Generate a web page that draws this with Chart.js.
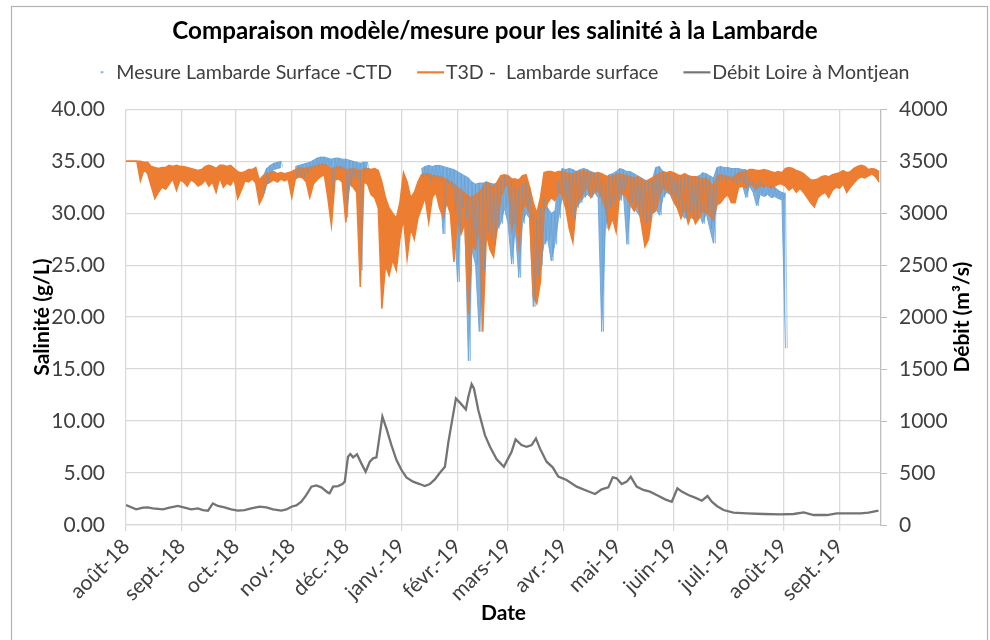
<!DOCTYPE html>
<html><head><meta charset="utf-8">
<script src="https://cdn.jsdelivr.net/npm/chart.js@4.4.1/dist/chart.umd.min.js"></script>
<style>html,body{margin:0;padding:0;background:#fff;}#wrap{position:relative;width:990px;height:640px;}</style>
</head><body><div id="wrap"><canvas id="c" width="990" height="640"></canvas></div>
<script>
// x axis: days since 1 Aug 2018
const monthTickDays = [0,31,61,92,122,153,184,212,243,273,304,334,365,396];
const monthTickLabels = ['août-18','sept.-18','oct.-18','nov.-18','déc.-18','janv.-19','févr.-19','mars-19','avr.-19','mai-19','juin-19','juil.-19','août-19','sept.-19'];
const axisEndDay = 419;

// T3D model salinity: envelope (high / low) every 2 days from day 0
const modelStartDay = 0;
const modelHi = [35.0,35.0,35.0,35.0,35.0,34.9,34.9,34.5,34.4,34.3,34.4,34.4,34.6,34.5,34.6,34.5,
34.5,34.4,34.3,34.2,34.1,34.2,34.5,34.6,34.5,34.3,34.6,34.6,34.5,34.6,34.3,
34.0,33.9,34.0,34.2,34.2,34.4,33.2,33.6,33.8,33.9,34.0,33.8,33.9,33.8,33.9,
34.0,34.2,34.4,34.3,34.3,34.4,34.5,34.6,34.7,34.7,34.5,34.2,34.4,34.5,34.4,
34.2,34.2,34.3,34.2,34.0,34.3,34.3,34.2,34.3,34.1,33.0,31.5,30.5,30.0,29.5,31.0,
33.9,33.0,31.5,32.0,33.0,33.7,33.8,33.8,33.6,33.6,33.5,33.4,33.3,33.0,32.8,
32.5,32.2,31.9,31.6,31.5,31.8,32.0,32.5,33.0,32.8,32.5,33.0,33.6,33.7,
33.6,33.3,33.3,33.2,33.6,33.7,32.5,31.0,30.0,31.5,33.9,34.0,34.0,33.9,34.0,34.0,
33.9,33.8,33.8,34.0,34.0,34.1,34.0,33.9,33.8,33.9,33.8,33.6,33.5,33.6,33.7,
33.8,33.7,33.6,33.5,33.4,33.5,33.3,33.0,33.2,33.4,33.6,33.8,34.0,33.9,34.0,
33.9,33.7,33.6,33.8,33.6,33.5,33.5,33.4,33.3,33.4,33.0,32.5,33.6,33.7,33.6,
33.5,33.4,33.6,33.9,34.0,34.0,34.2,34.2,34.1,34.1,34.2,34.1,34.0,33.9,34.0,33.9,
34.3,34.4,34.3,34.1,34.0,33.8,33.5,33.2,33.2,33.3,33.5,33.6,33.5,33.7,33.8,
33.9,34.1,33.9,34.0,34.3,34.5,34.6,34.5,34.2,34.3,34.2,34.0];
const modelLo = [35.0,35.0,35.0,35.0,33.1,34.2,33.8,32.6,31.4,32.0,32.5,32.3,32.8,33.3,32.2,33.2,
33.0,32.6,33.2,33.0,32.6,32.8,33.2,32.6,33.0,32.0,33.4,32.5,32.9,32.7,33.3,
31.4,32.2,33.1,33.0,33.3,32.9,30.9,31.6,32.8,33.0,33.2,33.0,33.3,33.1,33.3,
31.5,33.3,33.5,33.4,33.0,31.5,32.8,33.2,33.5,33.7,31.5,28.8,33.2,33.3,33.0,
29.1,33.0,32.5,32.0,22.9,33.0,32.8,31.8,31.5,30.5,20.8,25.0,24.0,25.5,24.5,27.5,
29.5,25.6,28.5,27.5,29.5,30.5,31.5,29.1,31.5,32.0,30.5,29.6,31.0,30.0,25.3,
29.5,28.0,29.0,20.3,27.0,26.5,29.0,18.6,28.0,26.5,25.8,28.5,31.5,32.5,
32.8,28.3,29.5,26.7,30.5,30.8,30.0,22.0,21.3,23.4,30.0,31.0,31.5,31.2,32.0,31.8,
30.5,28.5,27.2,30.8,31.3,32.0,32.5,31.5,32.0,32.2,31.5,30.5,28.5,29.5,28.2,
32.0,31.8,31.5,30.8,30.2,31.0,29.0,26.8,27.5,30.0,30.2,31.5,32.5,32.2,32.0,
31.2,30.5,29.5,30.5,29.0,30.0,29.0,29.5,30.2,30.0,29.8,29.3,30.8,31.0,31.5,
31.8,31.0,31.0,32.5,32.6,32.4,32.8,32.6,32.3,32.7,32.5,32.7,32.4,32.6,32.8,32.8,
32.6,32.2,32.5,32.0,32.4,32.0,31.5,31.0,30.6,31.5,31.8,32.0,31.5,32.2,32.5,
32.4,32.8,32.0,32.5,32.9,33.3,33.5,33.4,33.6,33.8,33.5,33.0];

// CTD measurements: envelope (high / low) every 2 days from day 76, null = no data
const measStartDay = 76;
const measHi = [33.5,34.3,34.6,34.8,34.9,35.0,null,null,null,34.5,34.6,34.7,34.8,34.9,
35.1,35.3,35.4,35.4,35.3,35.2,35.3,35.3,35.2,35.2,35.1,35.0,34.9,34.8,34.9,34.9,
null,null,null,null,null,null,null,null,null,null,null,null,null,null,
34.3,34.5,34.6,34.5,34.6,34.6,34.5,34.4,34.3,34.2,34.0,33.8,33.6,33.4,33.0,32.8,32.9,
32.9,33.0,32.9,32.8,32.9,33.2,33.6,33.5,33.2,32.6,32.5,32.8,33.0,32.5,30.0,29.5,30.5,
31.5,30.5,30.0,30.2,33.0,34.3,34.2,34.3,34.2,34.0,34.2,34.3,34.2,34.0,33.9,33.8,
33.2,33.0,33.7,33.8,34.0,34.3,34.2,34.0,34.0,33.8,33.6,33.4,33.2,33.0,33.2,34.4,
34.5,34.0,33.8,33.7,33.8,33.6,33.5,33.5,33.6,33.4,33.5,33.6,33.9,33.8,33.6,33.4,
34.4,34.5,34.4,34.4,34.3,34.3,34.3,34.2,34.2,33.5,33.0,32.8,33.0,32.8,32.6,32.7,
32.5,32.2,32.0,31.9];
const measLo = [31.9,32.8,33.8,34.2,34.3,34.4,null,null,null,33.5,33.6,33.4,33.8,34.2,
34.3,34.5,34.6,34.6,34.5,31.9,34.3,34.2,34.2,29.6,32.5,33.5,33.4,24.5,34.0,34.2,
null,null,null,null,null,null,null,null,null,null,null,null,null,null,
33.5,33.6,33.0,33.5,33.2,33.0,28.0,32.8,32.5,30.0,23.4,30.5,29.5,15.8,26.5,25.0,18.6,
24.5,28.0,27.5,27.0,28.5,29.0,30.5,29.0,25.1,28.5,23.8,29.0,30.0,29.5,21.0,24.0,25.0,
27.0,27.5,25.4,27.0,29.5,31.5,30.5,30.0,29.5,30.5,31.0,31.5,31.8,31.5,32.0,31.5,
18.6,28.5,30.5,31.0,31.5,31.2,32.0,27.0,31.0,30.5,30.0,29.5,29.0,29.5,30.0,30.5,
29.8,31.5,32.0,31.8,31.0,30.5,30.0,29.5,30.0,29.5,29.5,30.0,29.0,30.0,28.5,27.1,
33.0,33.2,33.0,33.2,33.0,32.8,33.0,32.8,31.5,32.6,32.0,30.7,31.8,31.6,31.8,31.5,
31.6,31.4,31.3,17.0];

// Loire discharge at Montjean (m3/s)
const flowDays = [0,5.6,9.4,12,14.9,20.5,24.2,28.8,32.5,36.2,39.9,42.7,45.5,48.2,51,54.7,58.4,62.1,65.8,69.5,
74.2,77.9,81.6,86.2,89,91.8,94.5,97.3,100,102.9,105.6,108.4,112.1,113,114.9,117.7,120.1,121.4,123.2,124.5,
126,128.2,130.6,133,135.3,137.1,139,142.3,144.5,147.3,150.1,152.9,155.6,159.3,163,165.8,168.6,171.4,174.2,177,
178.8,180.7,183.1,185.7,188.6,190,191.8,193.1,195.5,199.2,202,205.7,209.7,212.1,214,216.2,219.5,222.3,225.1,227.5,
229.7,233.4,236.8,239.9,244.5,250.1,255.7,260.3,264,267.7,270.1,272.3,275.1,277.9,280.1,283.4,287.1,290.8,294.5,299.2,
302.9,306,308.4,312.1,316.8,319.6,322.7,325.1,327.9,331.6,337.1,344.6,353.8,363.1,370.5,376.1,381.6,389,394.5,401.8,
407.5,412.1,417.6];
const flowValues = [192,150,167,170,160,150,167,183,167,150,160,144,138,208,183,170,150,138,144,160,
176,170,150,138,150,176,189,224,288,369,381,362,311,305,369,375,394,417,657,683,
651,680,593,513,609,641,651,1042,930,769,625,529,458,417,394,375,394,439,503,561,
785,978,1218,1170,1112,1234,1356,1314,1106,865,753,632,561,641,705,824,769,753,769,833,
737,609,555,465,433,369,330,298,343,362,458,449,394,417,465,369,337,321,289,247,
224,353,321,289,256,234,279,224,183,144,119,112,106,103,106,122,96,96,112,112,
112,119,138];

const seriesNames = ['Mesure Lambarde Surface -CTD','T3D -  Lambarde surface','Débit Loire à Montjean'];
const chartTitle = 'Comparaison modèle/mesure pour les salinité à la Lambarde';

function toPoints(start, vals){ return vals.map((v, i) => ({x: start + 2*i, y: v})); }
function zigzag(start, hi, lo){
  const pts = [];
  hi.forEach((v, i) => { pts.push({x: start + 2*i, y: v}); pts.push({x: start + 2*i + 1, y: lo[i]}); });
  return pts;
}

const FONT = 'Lato';
const colBlue = '#5B9BD5', colBlueFill = 'rgba(104,162,216,0.85)', colBlueTrace = 'rgba(91,155,213,0.75)',
      colOrange = '#ED7D31', colGray = '#747474';

function legendIcon(kind, color){
  const cv = document.createElement('canvas');
  cv.width = 58; cv.height = 6;
  const c = cv.getContext('2d');
  c.fillStyle = color;
  if (kind === 'dot') { c.fillRect(43.5, 2, 2, 2); }
  else { c.fillRect(30, 2, 27, 2.2); }
  return cv;
}
const legendIcons = [legendIcon('dot', colBlue), legendIcon('line', colOrange), legendIcon('line', colGray)];

const framePlugin = {
  id: 'frame',
  beforeDraw(chart){
    const c = chart.ctx; c.save();
    c.fillStyle = '#fff'; c.fillRect(0,0,chart.width,chart.height);
    c.strokeStyle = '#b4b4b4'; c.lineWidth = 1.2;
    c.strokeRect(11.5, 6.5, 976, 640);
    c.restore();
  }
};
const legendShiftPlugin = {
  id: 'legendShift',
  afterLayout(chart){ if (chart.legend && chart.legend.lineWidths) chart.legend.lineWidths[0] += 14; }
};
const y2TitlePlugin = {
  id: 'y2title',
  afterDraw(chart){
    const s = chart.scales.y2, a = chart.chartArea, c = chart.ctx;
    c.save();
    c.translate(s.right - 28, (a.top + a.bottom)/2);
    c.rotate(-Math.PI/2);
    c.font = 'bold 21px ' + FONT; c.fillStyle = '#000';
    c.textAlign = 'center'; c.textBaseline = 'middle';
    c.fillText('Débit (m³/s)', 0, 0);
    c.restore();
  }
};

new Chart(document.getElementById('c'), {
  type: 'line',
  data: { datasets: [
    { label: seriesNames[0], data: toPoints(measStartDay, measHi), borderColor: colBlueFill, backgroundColor: colBlue,
      borderWidth: 1, pointRadius: 0, spanGaps: false, fill: false, yAxisID: 'y', order: 6 },
    { label: seriesNames[1], data: toPoints(modelStartDay, modelHi), borderColor: colOrange, backgroundColor: colOrange,
      borderWidth: 1.5, pointRadius: 0, fill: false, yAxisID: 'y', order: 4 },
    { label: seriesNames[2], data: flowDays.map((d,i)=>({x:d, y:flowValues[i]})), borderColor: colGray, backgroundColor: colGray,
      borderWidth: 2.3, pointRadius: 0, fill: false, yAxisID: 'y2', order: 1 },
    { label: 'mesure-bas', data: toPoints(measStartDay, measLo), borderColor: colBlueFill, backgroundColor: colBlueFill,
      borderWidth: 1, pointRadius: 0, spanGaps: false, fill: 0, yAxisID: 'y', order: 5 },
    { label: 'modele-bas', data: toPoints(modelStartDay, modelLo), borderColor: colOrange, backgroundColor: colOrange,
      borderWidth: 1.5, pointRadius: 0, fill: 1, yAxisID: 'y', order: 3 },
    { label: 'mesure-trace', data: zigzag(measStartDay, measHi, measLo), borderColor: colBlueTrace,
      borderWidth: 0.7, pointRadius: 0, spanGaps: false, fill: false, yAxisID: 'y', order: 2 }
  ]},
  options: {
    responsive: false, animation: false, devicePixelRatio: 1,
    layout: { padding: 0 },
    scales: {
      x: { type: 'linear', min: 0, max: axisEndDay,
        afterBuildTicks: s => { s.ticks = monthTickDays.map(v => ({value: v})); },
        afterFit: s => { s.height = 115; },
        ticks: { autoSkip: false, maxRotation: 45, minRotation: 45, padding: 3,
          callback: (v, i) => monthTickLabels[i], font: {family: FONT, size: 21}, color: '#404040' },
        grid: { color: '#d9d9d9', lineWidth: 1.3, tickLength: 6 },
        border: { color: '#d9d9d9', width: 1.3 },
        title: { display: true, text: 'Date', font: {family: FONT, size: 21, weight: 'bold'}, color: '#000', padding: {top: 0, bottom: 14} }
      },
      y: { position: 'left', min: 0, max: 40,
        afterFit: s => { s.width = 126; },
        ticks: { stepSize: 5, padding: 21, callback: v => Number(v).toFixed(2), font: {family: FONT, size: 21}, color: '#404040' },
        grid: { color: '#d9d9d9', lineWidth: 1.3, drawTicks: false },
        border: { display: false },
        title: { display: true, text: 'Salinité (g/L)', font: {family: FONT, size: 21, weight: 'bold'}, color: '#000', padding: {top: 30, bottom: 0} }
      },
      y2: { position: 'right', min: 0, max: 4000,
        afterFit: s => { s.width = 109; },
        ticks: { stepSize: 500, padding: 12, callback: v => String(v), font: {family: FONT, size: 21}, color: '#404040' },
        grid: { drawOnChartArea: false, color: '#bfbfbf', tickLength: 6 },
        border: { color: '#bfbfbf', width: 1.3 }
      }
    },
    plugins: {
      title: { display: true, text: chartTitle, font: {family: FONT, size: 24.2, weight: 'bold'}, color: '#000', padding: {top: 16.5, bottom: 12.9} },
      subtitle: { display: true, text: '', weight: 900, font: {size: 10, lineHeight: 1}, padding: {top: 0, bottom: 7.2} },
      legend: { position: 'top', labels: { usePointStyle: true, pointStyleWidth: 40, padding: 4,
        font: {family: FONT, size: 19.6}, color: '#404040',
        filter: it => it.datasetIndex < 3,
        sort: (a, b) => a.datasetIndex - b.datasetIndex,
        generateLabels: chart => {
          const items = Chart.defaults.plugins.legend.labels.generateLabels(chart);
          items.forEach(it => { it.pointStyle = legendIcons[it.datasetIndex] || 'line'; });
          return items;
        } } },
      tooltip: { enabled: false }
    }
  },
  plugins: [framePlugin, legendShiftPlugin, y2TitlePlugin]
});
</script></body></html>
